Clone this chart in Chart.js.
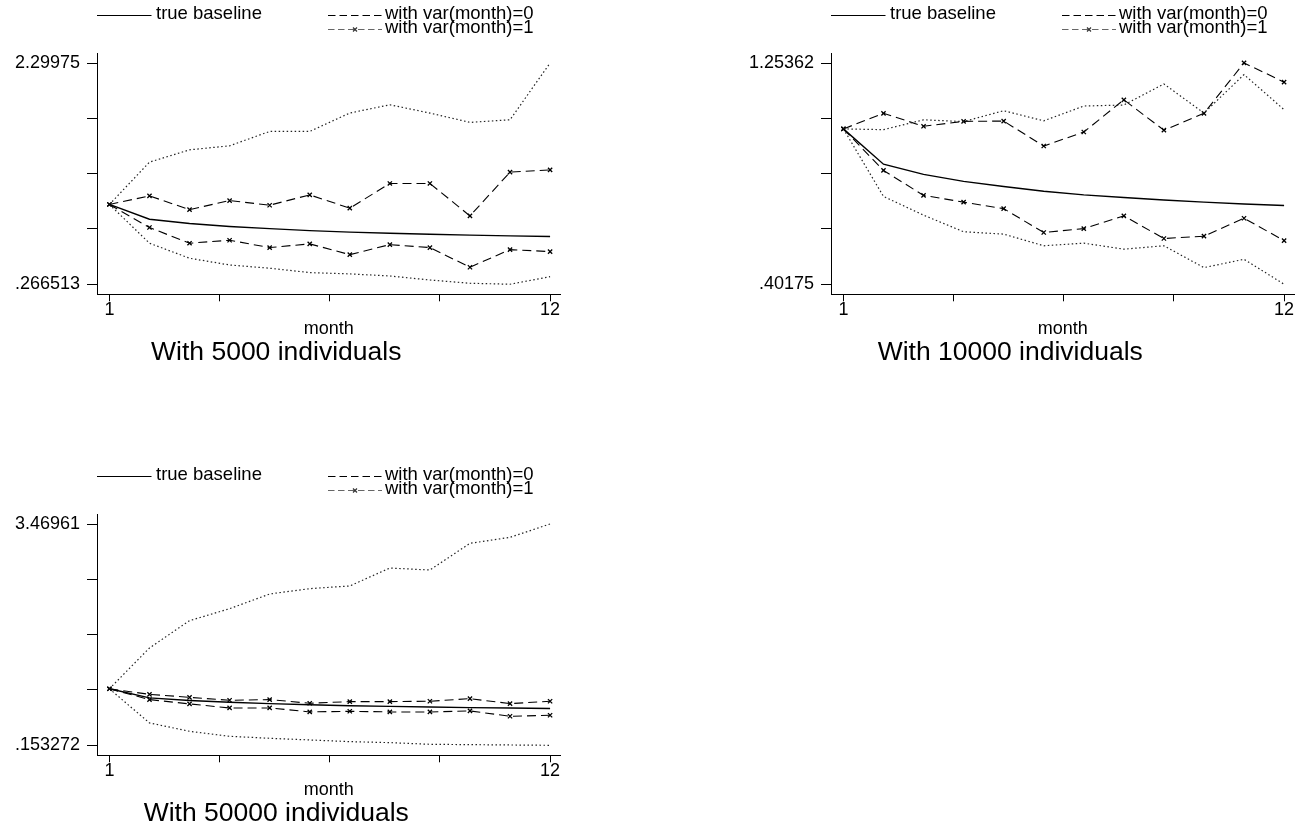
<!DOCTYPE html>
<html>
<head>
<meta charset="utf-8">
<script src="https://cdn.jsdelivr.net/npm/chart.js@4/dist/chart.umd.min.js"></script>
<style>
  body { margin: 0; background: #fff; overflow: hidden; }
  canvas { position: absolute; }
</style>
</head>
<body>
<canvas id="p5000" width="572" height="373" style="left:0px;top:0px"></canvas>
<canvas id="p10000" width="572" height="373" style="left:734px;top:0px"></canvas>
<canvas id="p50000" width="572" height="373" style="left:0px;top:461px"></canvas>
<script>
const months = [1, 2, 3, 4, 5, 6, 7, 8, 9, 10, 11, 12]
const xTickValues = [1, 3.75, 6.5, 9.25, 12]
const xTickLabels = ["1", "", "", "", "12"]
const legendLabels = ["true baseline", "with var(month)=0", "with var(month)=1"]

// same true baseline in every panel
const trueBaseline = [1.0, 0.864, 0.825, 0.798, 0.778, 0.760, 0.746, 0.736, 0.726, 0.718, 0.711, 0.705]

// 5000 individuals
const var0Upper5000 = [1.0, 1.389, 1.502, 1.539, 1.671, 1.671, 1.840, 1.916, 1.840, 1.754, 1.778, 2.300]
const var0Lower5000 = [1.0, 0.644, 0.506, 0.444, 0.414, 0.374, 0.362, 0.343, 0.306, 0.276, 0.267, 0.337]
const var1Upper5000 = [1.0, 1.079, 0.953, 1.036, 0.993, 1.088, 0.966, 1.193, 1.193, 0.895, 1.297, 1.318]
const var1Lower5000 = [1.0, 0.788, 0.644, 0.671, 0.604, 0.638, 0.539, 0.631, 0.604, 0.423, 0.585, 0.567]
const yRange5000 = [0.266513, 2.29975]
const yLabels5000 = [".266513", "2.29975"]

// 10000 individuals
const var0Upper10000 = [1.0, 0.997, 1.035, 1.028, 1.070, 1.031, 1.088, 1.092, 1.173, 1.061, 1.209, 1.074]
const var0Lower10000 = [1.0, 0.740, 0.668, 0.604, 0.595, 0.550, 0.560, 0.537, 0.550, 0.466, 0.498, 0.402]
const var1Upper10000 = [1.0, 1.060, 1.010, 1.029, 1.030, 0.934, 0.988, 1.112, 0.995, 1.060, 1.254, 1.180]
const var1Lower10000 = [1.0, 0.840, 0.744, 0.718, 0.693, 0.601, 0.616, 0.665, 0.578, 0.587, 0.656, 0.570]
const yRange10000 = [0.40175, 1.25362]
const yLabels10000 = [".40175", "1.25362"]

// 50000 individuals
const var0Upper50000 = [1.0, 1.612, 2.021, 2.201, 2.421, 2.501, 2.541, 2.810, 2.780, 3.180, 3.270, 3.470]
const var0Lower50000 = [1.0, 0.488, 0.363, 0.288, 0.258, 0.233, 0.208, 0.193, 0.168, 0.163, 0.158, 0.153]
const var1Upper50000 = [1.0, 0.917, 0.872, 0.828, 0.838, 0.783, 0.808, 0.808, 0.813, 0.852, 0.778, 0.813]
const var1Lower50000 = [1.0, 0.838, 0.773, 0.713, 0.713, 0.653, 0.663, 0.653, 0.653, 0.668, 0.588, 0.603]
const yRange50000 = [0.153272, 3.46961]
const yLabels50000 = [".153272", "3.46961"]

const FONT = '"Liberation Sans", Arial, Helvetica, sans-serif'
Chart.defaults.font.family = FONT
Chart.defaults.color = "#000"

function toPoints(values) {
  return months.map((m, i) => ({ x: m, y: values[i] }))
}

// legend drawn like the stata one: key 1 on its own, keys 2 and 3 stacked
const stataLegend = {
  id: "stataLegend",
  afterDraw(chart) {
    const ctx = chart.ctx
    const x0 = chart.chartArea.left
    ctx.save()
    ctx.font = "18.5px " + FONT
    ctx.fillStyle = "#000"
    ctx.lineWidth = 1.2

    ctx.strokeStyle = "#000"
    ctx.setLineDash([])
    ctx.beginPath()
    ctx.moveTo(x0, 15.5)
    ctx.lineTo(x0 + 54.5, 15.5)
    ctx.stroke()
    ctx.fillText(legendLabels[0], x0 + 59, 18.5)

    ctx.setLineDash([7.5, 4])
    ctx.beginPath()
    ctx.moveTo(x0 + 231, 15.5)
    ctx.lineTo(x0 + 285, 15.5)
    ctx.stroke()
    ctx.fillText(legendLabels[1], x0 + 288, 18.5)

    ctx.strokeStyle = "#666"
    ctx.setLineDash([6.5, 3.5])
    ctx.beginPath()
    ctx.moveTo(x0 + 231, 29.5)
    ctx.lineTo(x0 + 285, 29.5)
    ctx.stroke()
    ctx.setLineDash([])
    const mx = x0 + 258
    ctx.strokeStyle = "#333"
    ctx.beginPath()
    ctx.moveTo(mx - 2, 27.5); ctx.lineTo(mx + 2, 31.5)
    ctx.moveTo(mx + 2, 27.5); ctx.lineTo(mx - 2, 31.5)
    ctx.stroke()
    ctx.fillText(legendLabels[2], x0 + 288, 33.3)

    // caption under the axis title
    const caption = chart.options.plugins.stataLegend.caption
    ctx.font = "26.5px " + FONT
    ctx.textAlign = "center"
    ctx.fillText(caption, (chart.chartArea.left + chart.chartArea.right) / 2 - 52.5, chart.chartArea.bottom + 65.7)
    ctx.restore()
  }
}

function makePanel(id, var0Upper, var0Lower, var1Upper, var1Lower, yRange, yLabels, caption) {
  const pad = (yRange[1] - yRange[0]) * 10 / 221
  const yTicks = [0, 1, 2, 3, 4].map(i => yRange[0] + (yRange[1] - yRange[0]) * i / 4)

  const dotted = { borderColor: "#222", borderWidth: 1.2, borderDash: [1.5, 2.5], pointRadius: 0 }
  const marked = {
    borderColor: "#000", borderWidth: 1.1, borderDash: [9, 5],
    pointStyle: "crossRot", pointRadius: 3, pointBorderWidth: 1.3, pointBorderColor: "#000"
  }

  new Chart(document.getElementById(id), {
    type: "line",
    data: {
      datasets: [
        { label: legendLabels[0], data: toPoints(trueBaseline), borderColor: "#000", borderWidth: 1.4, pointRadius: 0 },
        Object.assign({ label: legendLabels[1], data: toPoints(var0Upper) }, dotted),
        Object.assign({ label: legendLabels[1], data: toPoints(var0Lower) }, dotted),
        Object.assign({ label: legendLabels[2], data: toPoints(var1Upper) }, marked),
        Object.assign({ label: legendLabels[2], data: toPoints(var1Lower) }, marked)
      ]
    },
    options: {
      responsive: false,
      animation: false,
      events: [],
      layout: { padding: { top: 53, left: 0, right: 11.5, bottom: 33.4 } },
      plugins: {
        legend: { display: false },
        tooltip: { enabled: false },
        stataLegend: { caption: caption }
      },
      scales: {
        x: {
          type: "linear",
          min: 0.69,
          max: 12.26,
          afterBuildTicks: (scale) => { scale.ticks = xTickValues.map(v => ({ value: v })) },
          afterFit: (scale) => { scale.height = 45.3 },
          ticks: {
            autoSkip: false,
            maxRotation: 0,
            padding: 0,
            font: { size: 18, lineHeight: 1 },
            callback: (value, index) => xTickLabels[index]
          },
          grid: { drawOnChartArea: false, drawTicks: true, tickLength: 7, color: "#000" },
          border: { display: true, color: "#000", width: 1 },
          title: { display: true, text: "month", font: { size: 18 }, padding: 0 }
        },
        y: {
          min: yRange[0] - pad,
          max: yRange[1] + pad,
          afterBuildTicks: (scale) => { scale.ticks = yTicks.map(v => ({ value: v })) },
          afterFit: (scale) => { scale.width = 97 },
          ticks: {
            autoSkip: false,
            padding: 7,
            font: { size: 18 },
            callback: (value, index) => index === 0 ? yLabels[0] : (index === 4 ? yLabels[1] : "")
          },
          grid: { drawOnChartArea: false, drawTicks: true, tickLength: 10, color: "#000" },
          border: { display: true, color: "#000", width: 1 }
        }
      }
    },
    plugins: [stataLegend]
  })
}

makePanel("p5000", var0Upper5000, var0Lower5000, var1Upper5000, var1Lower5000, yRange5000, yLabels5000, "With 5000 individuals")
makePanel("p10000", var0Upper10000, var0Lower10000, var1Upper10000, var1Lower10000, yRange10000, yLabels10000, "With 10000 individuals")
makePanel("p50000", var0Upper50000, var0Lower50000, var1Upper50000, var1Lower50000, yRange50000, yLabels50000, "With 50000 individuals")
</script>
</body>
</html>
